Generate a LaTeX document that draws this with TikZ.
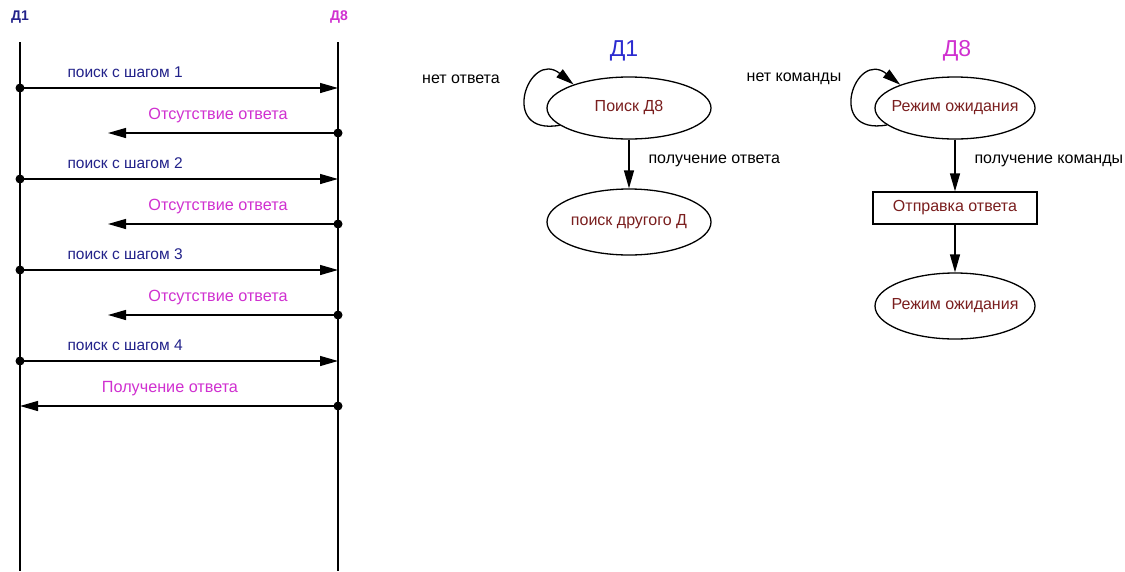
\documentclass[tikz,border=0pt]{standalone}
\usepackage{fontspec}
\setmainfont{Liberation Sans}
\usetikzlibrary{arrows.meta,shapes.geometric}
\definecolor{navy}{HTML}{22228A}
\definecolor{titleblue}{HTML}{2B2BD0}
\definecolor{pink}{HTML}{D030D0}
\definecolor{statered}{HTML}{7A1E1E}
\tikzset{
  arr/.style={-{Triangle[length=18pt,width=10pt]}, line width=1.3pt},
  life/.style={line width=1.3pt},
  dot/.style={circle, fill=black, inner sep=0pt, minimum size=9pt},
  req/.style={text=navy, font=\fontsize{15.5}{18}\selectfont},
  rep/.style={text=pink, font=\fontsize{16.2}{18}\selectfont},
  state/.style={ellipse, draw, line width=1.3pt, minimum width=164pt, minimum height=62pt, inner ysep=0pt, inner xsep=-14pt, text=statered, font=\fontsize{16}{18}\selectfont},
  actbox/.style={rectangle, draw, line width=1.3pt, minimum width=164pt, minimum height=32pt, inner sep=0pt, text=statered, font=\fontsize{16}{18}\selectfont},
  lbl/.style={text=black, font=\fontsize{16}{18}\selectfont},
}
\begin{document}
\begin{tikzpicture}[x=1pt, y=-1pt]
\useasboundingbox[fill=white] (0,0) rectangle (1125,571);

% --- sequence of messages between the two devices ---
\node[text=navy, font=\bfseries\fontsize{14}{16}\selectfont] (h1) at (20,17) {Д1};
\node[text=pink, font=\bfseries\fontsize{14}{16}\selectfont] (h8) at (339,17) {Д8};
\coordinate (t1) at (20,42);  \coordinate (b1) at (20,571);
\coordinate (t8) at (338,42); \coordinate (b8) at (338,571);
\draw[life] (t1) -- (b1);
\draw[life] (t8) -- (b8);

% requests from Д1
\foreach \i/\y in {1/88, 2/179, 3/270, 4/361}{
  \node[dot] (s\i) at (20,\y) {};
  \coordinate (e\i) at (338,\y);
  \draw[arr] (s\i.center) -- (e\i);
  \node[req, anchor=west] (q\i) at (64,\y-16) {поиск с шагом \i};
}
% no answer from Д8
\foreach \i/\y in {1/133, 2/224, 3/315}{
  \node[dot] (r\i) at (338,\y) {};
  \coordinate (f\i) at (108,\y);
  \draw[arr] (r\i.center) -- (f\i);
  \node[rep] (n\i) at (218,\y-17) {Отсутствие ответа};
}
% final answer
\node[dot] (r4) at (338,406) {};
\coordinate (f4) at (20,406);
\draw[arr] (r4.center) -- (f4);
\node[rep] (g4) at (170,389) {Получение ответа};

% --- state diagram of Д1 ---
\node[text=titleblue, font=\fontsize{23}{26}\selectfont] (d1) at (624,51) {Д1};
\node[state] (search) at (629,108) {Поиск Д8};
\node[state, minimum height=66pt] (other) at (629,222) {поиск другого Д};
\draw[arr] (search.south) -- (other.north);
\node[lbl, anchor=west] (got) at (645,161) {получение ответа};
\draw[arr] (search.194) .. controls +(-62,11) and +(-45,-36) .. (search.157);
\node[lbl] (noans) at (461,79) {нет ответа};

% --- state diagram of Д8 ---
\node[text=pink, font=\fontsize{23}{26}\selectfont] (d8) at (957,51) {Д8};
\node[state, minimum width=160pt] (wait) at (955,108) {Режим ожидания};
\node[actbox] (send) at (955,208) {Отправка ответа};
\node[state, minimum width=160pt, minimum height=66pt] (wait2) at (955,306) {Режим ожидания};
\draw[arr] (wait.south) -- (send.north);
\draw[arr] (send.south) -- (wait2.north);
\node[lbl, anchor=west] (cmd) at (971,161) {получение команды};
\draw[arr] (wait.194) .. controls +(-62,11) and +(-45,-36) .. (wait.157);
\node[lbl] (nocmd) at (794,79) {нет команды};
\end{tikzpicture}
\end{document}
